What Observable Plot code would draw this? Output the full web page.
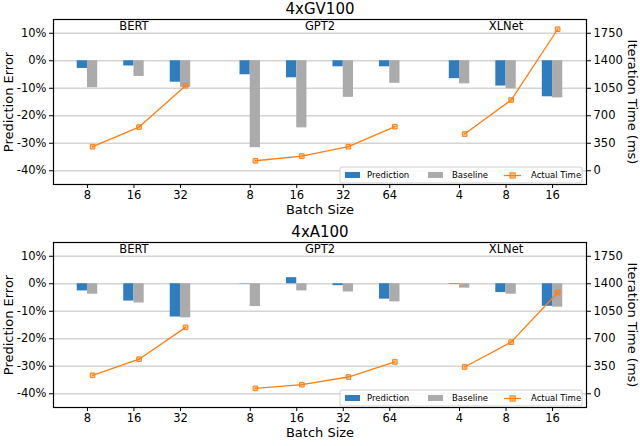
<!DOCTYPE html>
<html>
<head>
<meta charset="utf-8">
<script src="https://cdn.jsdelivr.net/npm/d3@7"></script>
<script src="https://cdn.jsdelivr.net/npm/@observablehq/plot@0.6"></script>
<style>
  body { margin: 0; background: #fff; font-family: "DejaVu Sans", sans-serif; }
  #chart svg { display: block; }
</style>
</head>
<body>
<div id="chart"></div>
<script>
const models = ['BERT', 'GPT2', 'XLNet']
const batchSizes = [[8, 16, 32], [8, 16, 32, 64], [4, 8, 16]]
const errorTicks = [-40, -30, -20, -10, 0, 10]

// 4xGV100
const gv100Prediction = [-2.8, -1.9, -7.8, -5.1, -6.2, -2.2, -2.2, -6.5, -9.2, -13.1]
const gv100Baseline = [-9.8, -5.7, -9.7, -31.6, -24.4, -13.3, -8.2, -8.4, -10.2, -13.5]
const gv100Time = [306, 556, 1083, 127, 187, 306, 561, 467, 900, 1801]

// 4xA100
const a100Prediction = [-2.6, -6.3, -12.1, -0.1, 2.2, -0.7, -5.6, -0.2, -3.2, -8.2]
const a100Baseline = [-3.8, -7.0, -12.4, -8.3, -2.6, -3.0, -6.6, -1.6, -3.8, -8.5]
const a100Time = [235, 440, 845, 68, 115, 213, 405, 341, 657, 1289]

// la escala de tiempo comparte el eje: 350 ms = 10%, 0 ms = -40%
const timeToErr = t => t / 35 - 40

// posiciones de cada grupo en x (hueco de media ranura entre modelos)
const offsets = []
batchSizes.reduce((acc, b) => { offsets.push(acc); return acc + b.length + 0.5 }, 0)

function buildRows(pred, base, time) {
  const rows = []
  let k = 0
  models.forEach((m, i) => {
    batchSizes[i].forEach((b, j) => {
      rows.push({ model: m, batch: b, pos: offsets[i] + j, pred: pred[k], base: base[k], time: time[k] })
      k++
    })
  })
  return rows
}

const W = 0.22

function panel(title, rows, mt, mb) {
  const height = mt + 165 + mb
  const mr = 54, ml = 53
  const labels = new Map(rows.map(d => [d.pos, d.batch]))
  const centers = models.map((m, i) => ({ m, x: offsets[i] + (batchSizes[i].length - 1) / 2 }))

  const chart = Plot.plot({
    width: 640,
    height,
    marginTop: mt,
    marginBottom: mb,
    marginLeft: ml,
    marginRight: mr,
    style: { fontFamily: 'DejaVu Sans, sans-serif', fontSize: '11px', color: '#000', overflow: 'visible' },
    x: { domain: [-0.73, 10.73] },
    y: { domain: [-45, 15] },
    marks: [
      Plot.gridY(errorTicks, { stroke: '#d4d4d4', strokeOpacity: 1, strokeWidth: 1.5 }),
      Plot.rectY(rows, { x1: d => d.pos - W, x2: d => d.pos, y1: 0, y2: 'pred', fill: '#2f7dbf' }),
      Plot.rectY(rows, { x1: d => d.pos, x2: d => d.pos + W, y1: 0, y2: 'base', fill: '#ababab' }),
      Plot.line(rows, { x: d => d.pos + W / 2, y: d => timeToErr(d.time), z: 'model', stroke: '#ff7f0e', strokeWidth: 1.3 }),
      Plot.dot(rows, { x: d => d.pos + W / 2, y: d => timeToErr(d.time), symbol: 'square', r: 2.6, stroke: '#ff7f0e', strokeWidth: 1, fill: '#ff7f0e', fillOpacity: 0.45 }),
      Plot.frame({ stroke: '#000', strokeWidth: 1.2 }),
      Plot.axisY(errorTicks, { anchor: 'left', label: null, tickSize: 4, tickPadding: 3, tickFormat: d => `${d}%`, fontSize: 11.5 }),
      Plot.axisY(errorTicks, { anchor: 'right', label: null, tickSize: 4, tickPadding: 3, tickFormat: d => String((d + 40) * 35), fontSize: 11.5 }),
      Plot.axisX(rows.map(d => d.pos), { anchor: 'bottom', label: null, tickSize: 4, tickPadding: 2, tickFormat: d => labels.get(d), fontSize: 11.5 }),
      Plot.text(centers, { x: 'x', text: 'm', frameAnchor: 'top', lineAnchor: 'middle', dy: 7, fontSize: 11.5 }),
      Plot.text([title], { frameAnchor: 'top', textAnchor: 'middle', lineAnchor: 'middle', dy: -10, fontSize: 15 }),
      Plot.text(['Batch Size'], { frameAnchor: 'bottom', textAnchor: 'middle', lineAnchor: 'middle', dy: 25, fontSize: 13 }),
      Plot.text(['Prediction Error'], { frameAnchor: 'left', textAnchor: 'middle', lineAnchor: 'middle', dx: -45, rotate: -90, fontSize: 13 }),
      Plot.text(['Iteration Time (ms)'], { frameAnchor: 'right', textAnchor: 'middle', lineAnchor: 'middle', dx: 46, rotate: 90, fontSize: 13 })
    ]
  })

  // leyenda abajo a la derecha, dentro del marco
  const fr = 640 - mr, fb = height - mb
  const g = d3.select(chart).append('g')
    .attr('transform', `translate(${fr - 246},${fb - 17})`)
    .attr('text-anchor', 'start')
    .style('font-family', 'DejaVu Sans, sans-serif')
    .style('font-size', '8.5px')
  g.append('rect').attr('width', 242).attr('height', 16).attr('rx', 2)
    .attr('fill', '#fff').attr('fill-opacity', 0.85).attr('stroke', '#cfcfcf')
  const cy = 8.5
  g.append('rect').attr('x', 5).attr('y', cy - 3.5).attr('width', 15).attr('height', 6).attr('fill', '#2f7dbf')
  g.append('text').attr('x', 27).attr('y', cy).attr('dy', '0.35em').text('Prediction')
  g.append('rect').attr('x', 88).attr('y', cy - 3.5).attr('width', 15).attr('height', 6).attr('fill', '#ababab')
  g.append('text').attr('x', 112).attr('y', cy).attr('dy', '0.35em').text('Baseline')
  g.append('line').attr('x1', 164).attr('x2', 181).attr('y1', cy).attr('y2', cy)
    .attr('stroke', '#ff7f0e').attr('stroke-width', 1.3)
  g.append('rect').attr('x', 170).attr('y', cy - 2.6).attr('width', 5.2).attr('height', 5.2)
    .attr('stroke', '#ff7f0e').attr('fill', '#ff7f0e').attr('fill-opacity', 0.45)
  g.append('text').attr('x', 191).attr('y', cy).attr('dy', '0.35em').text('Actual Time')

  return chart
}

d3.select('#chart').append(() => panel('4xGV100', buildRows(gv100Prediction, gv100Baseline, gv100Time), 19, 31))
d3.select('#chart').append(() => panel('4xA100', buildRows(a100Prediction, a100Baseline, a100Time), 27, 39))
</script>
</body>
</html>
